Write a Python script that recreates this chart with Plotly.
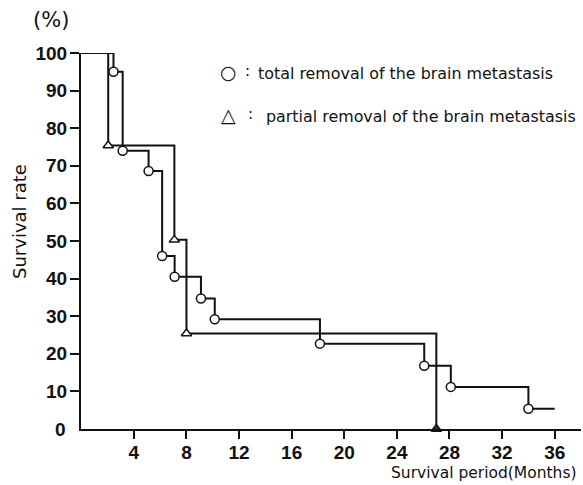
import plotly.graph_objects as go

# ---- data ----
total_months = [0, 2.45, 3.15, 5.12, 6.15, 7.1, 9.1, 10.15, 18.15, 26.08, 28.1, 34.0, 36.0]
total_rate = [100, 95.0, 74.0, 68.6, 46.0, 40.5, 34.7, 29.2, 22.7, 16.8, 11.2, 5.4, 5.4]

partial_months = [0, 2.05, 7.08, 8.0, 27.0]
partial_rate = [100, 75.4, 50.3, 25.4, 0]

x_ticks = [4, 8, 12, 16, 20, 24, 28, 32, 36]
y_ticks = [10, 20, 30, 40, 50, 60, 70, 80, 90, 100]

legend_total = "total removal of the brain metastasis"
legend_partial = "partial removal of the brain metastasis"

W, H = 583, 485
L, R, T, B = 81, 2, 53, 56
PW, PH = W - L - R, H - T - B

def px(x):
    return (x - L) / PW

def py(y):
    return 1 - (y - T) / PH

num_font = dict(family="Liberation Sans Narrow, Liberation Sans, Arial, sans-serif",
                size=19, color="#111", weight=600)
txt_font = dict(family="DejaVu Sans, sans-serif", color="#111")

fig = go.Figure()

# step lines
fig.add_trace(go.Scatter(x=total_months, y=total_rate, mode="lines",
                         line=dict(shape="hv", color="#111", width=2),
                         hoverinfo="skip", showlegend=False, cliponaxis=False))
fig.add_trace(go.Scatter(x=partial_months, y=partial_rate, mode="lines",
                         line=dict(shape="hv", color="#111", width=2),
                         hoverinfo="skip", showlegend=False, cliponaxis=False))

# markers at each drop
fig.add_trace(go.Scatter(x=total_months[1:-1], y=total_rate[1:-1], mode="markers",
                         marker=dict(symbol="circle", size=9, color="white",
                                     line=dict(color="#111", width=1.5)),
                         showlegend=False, cliponaxis=False))
tri_colors = ["white"] * (len(partial_months) - 2) + ["#333"]
fig.add_trace(go.Scatter(x=partial_months[1:], y=partial_rate[1:], mode="markers",
                         marker=dict(symbol="triangle-up", size=9, color=tri_colors,
                                     line=dict(color="#111", width=1.5)),
                         showlegend=False, cliponaxis=False))

fig.update_xaxes(range=[-0.02, 38.0], tickvals=x_ticks, ticktext=[str(v) for v in x_ticks],
                 ticks="outside", ticklen=8, tickwidth=1.5, tickcolor="#111",
                 showline=True, linecolor="#111", linewidth=2, showgrid=False,
                 zeroline=False, tickfont=num_font, automargin=False, ticklabelstandoff=-3)
fig.update_yaxes(range=[0, 100], tickvals=y_ticks, ticktext=[str(v) for v in y_ticks],
                 ticks="outside", ticklen=9, tickwidth=1.5, tickcolor="#111",
                 showline=True, linecolor="#111", linewidth=2, showgrid=False,
                 zeroline=False, tickfont=num_font, automargin=False, ticklabelstandoff=-1)

ann = []
# "0" label at origin
ann.append(dict(x=px(60), y=0, xref="paper", yref="y", text="0", showarrow=False,
                font=num_font, xanchor="center", yanchor="middle"))
ann.append(dict(x=px(51), y=py(20), xref="paper", yref="paper", text="(%)", showarrow=False,
                font=dict(txt_font, size=21), xanchor="center", yanchor="middle"))
ann.append(dict(x=px(19), y=py(222), xref="paper", yref="paper", text="Survival rate",
                textangle=-90, showarrow=False, font=dict(txt_font, size=18),
                xanchor="center", yanchor="middle"))
ann.append(dict(x=px(579), y=py(473), xref="paper", yref="paper",
                text="Survival period(Months)", showarrow=False,
                font=dict(txt_font, size=15.5), xanchor="right", yanchor="middle"))
# legend
ann.append(dict(x=px(228), y=py(72), xref="paper", yref="paper", text="○", showarrow=False,
                font=dict(txt_font, size=19), xanchor="center", yanchor="middle"))
ann.append(dict(x=px(247), y=py(71), xref="paper", yref="paper", text=":", showarrow=False,
                font=dict(txt_font, size=15), xanchor="center", yanchor="middle"))
ann.append(dict(x=px(256), y=py(73), xref="paper", yref="paper", text=legend_total,
                showarrow=False, font=dict(txt_font, size=15.9), xanchor="left", yanchor="middle"))
ann.append(dict(x=px(228), y=py(115), xref="paper", yref="paper", text="△", showarrow=False,
                font=dict(txt_font, size=19), xanchor="center", yanchor="middle"))
ann.append(dict(x=px(250), y=py(114), xref="paper", yref="paper", text=":", showarrow=False,
                font=dict(txt_font, size=15), xanchor="center", yanchor="middle"))
ann.append(dict(x=px(264), y=py(116), xref="paper", yref="paper", text=legend_partial,
                showarrow=False, font=dict(txt_font, size=15.9), xanchor="left", yanchor="middle"))

fig.update_layout(width=W, height=H, margin=dict(l=L, r=R, t=T, b=B, pad=0),
                  paper_bgcolor="white", plot_bgcolor="white", annotations=ann,
                  showlegend=False)

fig.write_html("out.html", config={"displayModeBar": False},
               post_script="document.body.style.margin='0';document.body.style.overflow='hidden';")
